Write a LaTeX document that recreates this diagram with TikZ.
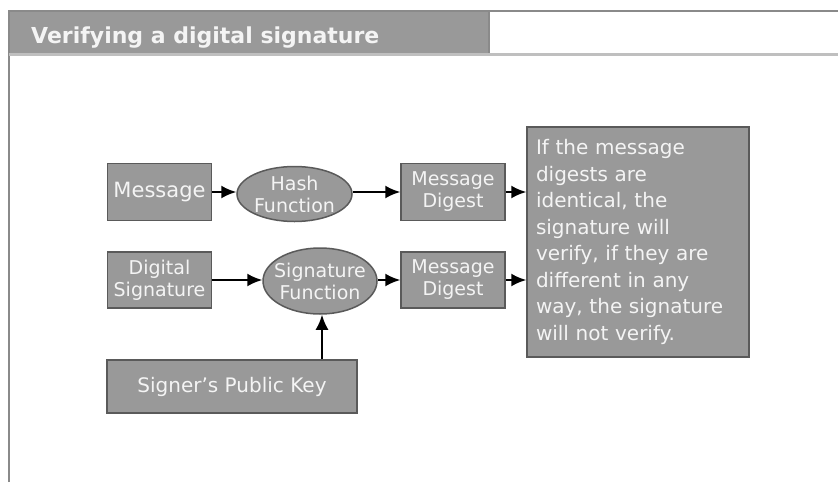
\documentclass[tikz,border=0pt]{standalone}
\usepackage{fontspec}
\setmainfont{DejaVu Sans}
\usetikzlibrary{shapes.geometric,arrows.meta}
\definecolor{boxgray}{HTML}{999999}
\definecolor{edgegray}{HTML}{5A5A5A}
\definecolor{txtwhite}{HTML}{F4F4F4}
\definecolor{framegray}{HTML}{8A8A8A}

\begin{document}
\begin{tikzpicture}[x=1pt, y=-1pt,
	box/.style={draw=edgegray, line width=1.5, fill=boxgray, text=txtwhite, inner sep=0, align=center, minimum width=104, minimum height=57, font=\fontsize{19}{22}\selectfont},
	oval/.style={ellipse, draw=edgegray, line width=1.5, fill=boxgray, text=txtwhite, inner xsep=-12, inner ysep=-2, align=center, font=\fontsize{19}{22}\selectfont},
	link/.style={-{Latex[length=15,width=13]}, line width=2}
]
\useasboundingbox (0,0) rectangle (838,482);

% frame and title bar
\fill[boxgray] (9,11) rectangle (489,53);
\draw[framegray, line width=2] (9,482) -- (9,11) -- (838,11);
\draw[framegray, line width=2] (489,11) -- (489,53);
\draw[black!25, line width=3] (9,54.5) -- (838,54.5);
\node[anchor=base west, inner sep=0, text=txtwhite, font=\bfseries\fontsize{22}{26}\selectfont] (title) at (31,43) {Verifying a digital signature};

% upper row
\node[box, font=\fontsize{21}{24}\selectfont] (msg) at (159.5,192) {Message};
\node[oval, minimum width=115, minimum height=55] (hash) at (294.5,194) {Hash\\Function};
\node[box] (dig1) at (453,192) {Message\\Digest};

% lower row
\node[box, minimum height=56] (sig) at (159.5,280) {Digital\\Signature};
\node[oval, minimum width=114, minimum height=66] (sigfn) at (320,281) {Signature\\Function};
\node[box, minimum height=56] (dig2) at (453,280) {Message\\Digest};

\node[box, minimum width=250, minimum height=53, font=\fontsize{20}{24}\selectfont] (key) at (232,386.5) {Signer’s Public Key};

\node[box, minimum width=222, minimum height=230, text width=204, inner xsep=9, align=left, font=\fontsize{20}{26.5}\selectfont] (result) at (638,242)
{If the message\\digests are\\identical, the\\signature will\\verify, if they are\\different in any\\way, the signature\\will not verify.};

\draw[link] (msg.east) -- (msg.east -| hash.west);
\draw[link] (hash.east |- dig1.west) -- (dig1.west);
\draw[link] (dig1.east) -- (dig1.east -| result.west);
\draw[link] (sig.east) -- (sig.east -| sigfn.west);
\draw[link] (sigfn.east |- dig2.west) -- (dig2.west);
\draw[link] (dig2.east) -- (dig2.east -| result.west);
\draw[link] ([xshift=90]key.north) -- ([xshift=90]key.north |- sigfn.south);
\end{tikzpicture}
\end{document}
